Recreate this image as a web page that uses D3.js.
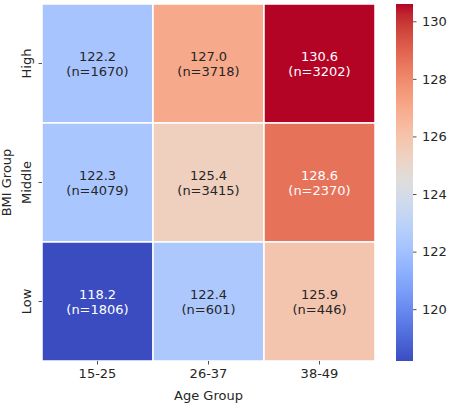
<!DOCTYPE html>
<html><head><meta charset="utf-8">
<script src="https://cdn.jsdelivr.net/npm/d3@7"></script>
<style>body{margin:0;background:#fff}text{font-family:"DejaVu Sans",sans-serif}</style>
</head><body><svg id="c" width="451" height="409"></svg>
<script>
const ageGroups = ["15-25","26-37","38-49"];
const bmiGroups = ["High","Middle","Low"];
const meanValues = [
  [122.2,127.0,130.6],
  [122.3,125.4,128.6],
  [118.2,122.4,125.9]
];
const counts = [
  [1670,3718,3202],
  [4079,3415,2370],
  [1806,601,446]
];
const cbarTicks = [120,122,124,126,128,130];
const vmin = 118.2, vmax = 130.6;

const cw = [[59,76,192],[68,90,204],[77,104,215],[87,117,225],[98,130,234],[108,142,241],[119,154,247],[130,165,251],[141,176,254],[152,185,255],[163,194,255],[174,201,253],[184,208,249],[194,213,244],[204,217,238],[213,219,230],[221,221,221],[229,216,209],[236,211,197],[241,204,184],[245,196,172],[247,187,160],[247,177,148],[247,166,135],[244,154,123],[241,141,111],[236,127,99],[229,112,88],[222,96,77],[213,80,66],[203,62,56],[192,40,47],[180,4,38]];
function coolwarm(t){
  t = Math.max(0,Math.min(1,t));
  const p = t*(cw.length-1), i = Math.min(Math.floor(p), cw.length-2), f = p-i;
  const a = cw[i], b = cw[i+1];
  return d3.rgb(a[0]+(b[0]-a[0])*f, a[1]+(b[1]-a[1])*f, a[2]+(b[2]-a[2])*f);
}
const norm = d3.scaleLinear().domain([vmin,vmax]).range([0,1]);
const color = v => coolwarm(norm(v));

function lum(c){
  const f = x => { x/=255; return x<=0.03928 ? x/12.92 : Math.pow((x+0.055)/1.055,2.4); };
  return 0.2126*f(c.r)+0.7152*f(c.g)+0.0722*f(c.b);
}

const svg = d3.select("#c");
const L=42, R=375, T=4, B=361;
const x = d3.scaleBand().domain(ageGroups).range([L,R]);
const y = d3.scaleBand().domain(bmiGroups).range([T,B]);
const fs = 13, tc = "#262626";

const cells = [];
bmiGroups.forEach((b,i)=>ageGroups.forEach((a,j)=>cells.push({a,b,v:meanValues[i][j],n:counts[i][j]})));

svg.append("g").selectAll("rect").data(cells).join("rect")
  .attr("x",d=>x(d.a)).attr("y",d=>y(d.b))
  .attr("width",x.bandwidth()).attr("height",y.bandwidth())
  .attr("fill",d=>color(d.v)).attr("stroke","#fff").attr("stroke-width",1.5);

const lab = svg.append("g").selectAll("text").data(cells).join("text")
  .attr("text-anchor","middle").attr("font-size",fs)
  .attr("fill",d=>lum(color(d.v))<0.408?"#fff":tc);
lab.append("tspan").attr("x",d=>x(d.a)+x.bandwidth()/2).attr("y",d=>y(d.b)+y.bandwidth()/2-3).text(d=>d.v.toFixed(1));
lab.append("tspan").attr("x",d=>x(d.a)+x.bandwidth()/2).attr("y",d=>y(d.b)+y.bandwidth()/2+12).text(d=>"(n="+d.n+")");

// x axis
const xa = svg.append("g").attr("transform",`translate(0,${B})`)
  .call(d3.axisBottom(x).tickSize(3.5).tickPadding(4));
xa.select(".domain").remove();
xa.selectAll("line").attr("stroke",tc).attr("stroke-width",0.8);
xa.selectAll("text").attr("font-size",fs).attr("fill",tc).attr("font-family","DejaVu Sans");
svg.append("text").attr("x",(L+R)/2).attr("y",400).attr("text-anchor","middle")
  .attr("font-size",fs).attr("fill",tc).text("Age Group");

// y axis
const ya = svg.append("g").attr("transform",`translate(${L},0)`)
  .call(d3.axisLeft(y).tickSize(3.5).tickPadding(4));
ya.select(".domain").remove();
ya.selectAll("line").attr("stroke",tc).attr("stroke-width",0.8);
ya.selectAll(".tick").attr("transform","translate(0,0)");
ya.selectAll(".tick line").attr("y1",d=>y(d)+y.bandwidth()/2).attr("y2",d=>y(d)+y.bandwidth()/2);
ya.selectAll("text").attr("font-size",fs).attr("fill",tc).attr("font-family","DejaVu Sans")
  .attr("text-anchor","middle").attr("x",0).attr("y",0).attr("dy",null)
  .attr("transform",d=>`translate(-11,${y(d)+y.bandwidth()/2}) rotate(-90)`);
svg.append("text").attr("transform",`translate(11,${(T+B)/2}) rotate(-90)`).attr("text-anchor","middle")
  .attr("font-size",fs).attr("fill",tc).text("BMI Group");

// colorbar
const CX0=396, CX1=413;
const cy = d3.scaleLinear().domain([vmin,vmax]).range([B,T]);
const defs = svg.append("defs");
const grad = defs.append("linearGradient").attr("id","cg").attr("x1",0).attr("y1",1).attr("x2",0).attr("y2",0);
d3.range(0,1.0001,1/64).forEach(t=>grad.append("stop").attr("offset",t).attr("stop-color",coolwarm(t)));
svg.append("rect").attr("x",CX0).attr("y",T).attr("width",CX1-CX0).attr("height",B-T).attr("fill","url(#cg)");
const ca = svg.append("g").attr("transform",`translate(${CX1},0)`)
  .call(d3.axisRight(cy).tickValues(cbarTicks).tickSize(3.5).tickPadding(5.5));
ca.select(".domain").remove();
ca.selectAll("line").attr("stroke",tc).attr("stroke-width",0.8);
ca.selectAll("text").attr("font-size",fs).attr("fill",tc).attr("font-family","DejaVu Sans");
</script></body></html>
